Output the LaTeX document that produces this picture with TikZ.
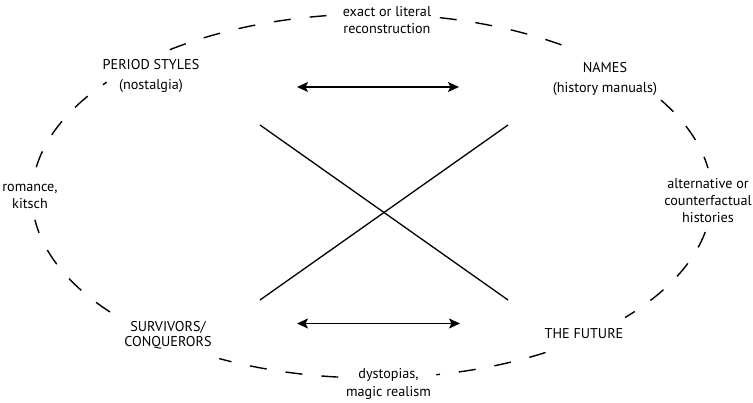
\documentclass[tikz,border=0pt]{standalone}
\usepackage{fontspec}
\setmainfont{PT Sans}
\usetikzlibrary{arrows.meta}
\begin{document}
\begin{tikzpicture}[x=1pt,y=-1pt,
  lbl/.style={align=center,anchor=base,inner sep=0pt,font=\fontsize{14.2}{#1}\selectfont},
  lbl/.default=17,
  rim/.style={line width=1.4pt,dash pattern=on 17pt off 19pt},
  cross/.style={line width=1.3pt},
  twoway/.style={line width=1.5pt,{Stealth[length=11pt,width=10pt,inset=2.5pt]}-{Stealth[length=11pt,width=10pt,inset=2.5pt]}}]
\useasboundingbox (0,0) rectangle (753,403);
\coordinate (C) at (372,196);
% dashed ellipse, broken where the labels sit
\foreach \a/\b in {-78.5/-52.5,-31.8/-8.8,11.4/41.9,59.3/79.1,95.7/116.7,140.4/172.5,189.1/218.7,233.5/264.1}{
  \draw[rim] (C) ++(\a:340 and 182) arc[start angle=\a,end angle=\b,x radius=340,y radius=182];
}
% labels (anchored at the baseline of their last line)
\node[lbl=16.5] (top) at (387,33.5) {exact or literal\\reconstruction};
\node[lbl=20] (period) at (151,90) {PERIOD STYLES\\(nostalgia)};
\node[lbl=19.5] (names) at (605,92.5) {NAMES\\(history manuals)};
\node[lbl] (romance) at (30,208.5) {romance,\\kitsch};
\node[lbl] (alt) at (708,223) {alternative or\\counterfactual\\histories};
\node[lbl=15] (surv) at (168,347) {SURVIVORS/\\CONQUERORS};
\node[lbl] (future) at (584,339) {THE FUTURE};
\node[lbl=18] (dys) at (388.5,396.5) {dystopias,\\magic realism};
% cross
\coordinate (xtl) at (260,125);
\coordinate (xtr) at (508,125);
\coordinate (xbl) at (260,300);
\coordinate (xbr) at (508,300);
\draw[cross] (xtl) -- (xbr);
\draw[cross] (xtr) -- (xbl);
% arrows
\coordinate (atl) at (297,87);
\coordinate (atr) at (459,87);
\coordinate (abl) at (297,323.5);
\coordinate (abr) at (460,323.5);
\draw[twoway] (atl) -- (atr);
\draw[twoway] (abl) -- (abr);
\end{tikzpicture}
\end{document}
